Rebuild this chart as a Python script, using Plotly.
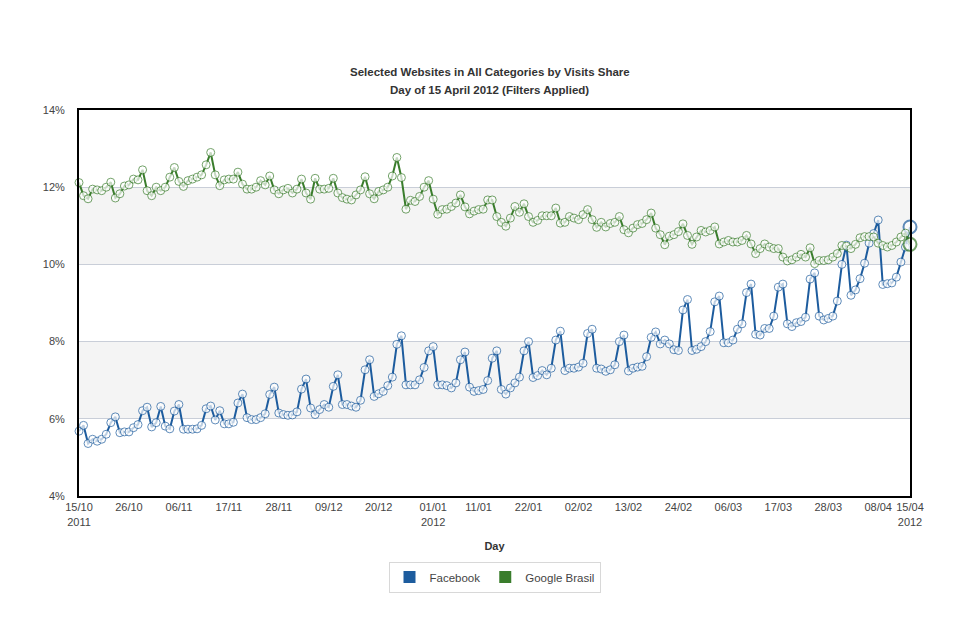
import pandas as pd
import plotly.graph_objects as go

# ---- data ----
start_date = "2011-10-15"
n_days = 184

facebook = [
    5.68, 5.83, 5.36, 5.47, 5.42, 5.47, 5.60, 5.90, 6.05, 5.64,
    5.66, 5.66, 5.77, 5.85, 6.21, 6.30, 5.79, 5.90, 6.32, 5.81,
    5.74, 6.20, 6.37, 5.73, 5.73, 5.73, 5.74, 5.83, 6.26, 6.33,
    5.97, 6.21, 5.87, 5.87, 5.91, 6.41, 6.64, 6.03, 5.98, 5.98,
    6.03, 6.13, 6.63, 6.82, 6.15, 6.11, 6.09, 6.10, 6.18, 6.77,
    7.03, 6.28, 6.11, 6.24, 6.37, 6.30, 6.84, 7.14, 6.37, 6.37,
    6.33, 6.30, 6.48, 7.27, 7.53, 6.58, 6.65, 6.71, 6.86, 7.08,
    7.93, 8.15, 6.88, 6.88, 6.88, 7.01, 7.33, 7.76, 7.87, 6.88,
    6.88, 6.86, 6.80, 6.93, 7.53, 7.73, 6.82, 6.71, 6.73, 6.76,
    6.99, 7.57, 7.76, 6.76, 6.64, 6.80, 6.93, 7.08, 7.76, 8.00,
    7.07, 7.12, 7.25, 7.14, 7.31, 8.04, 8.27, 7.25, 7.31, 7.31,
    7.34, 7.44, 8.21, 8.32, 7.31, 7.29, 7.23, 7.27, 7.40, 8.00,
    8.17, 7.24, 7.31, 7.34, 7.36, 7.61, 8.11, 8.25, 7.94, 8.04,
    7.94, 7.79, 7.77, 8.82, 9.09, 7.77, 7.80, 7.87, 8.00, 8.26,
    9.03, 9.18, 7.97, 7.97, 8.04, 8.32, 8.46, 9.27, 9.49, 8.19,
    8.17, 8.34, 8.34, 8.66, 9.41, 9.49, 8.46, 8.39, 8.49, 8.52,
    8.63, 9.62, 9.78, 8.66, 8.56, 8.60, 8.66, 9.05, 10.00, 10.50,
    9.20, 9.34, 9.63, 10.03, 10.55, 10.80, 11.15, 9.48, 9.50, 9.52,
    9.67, 10.06, 10.45, 10.97,
]

google_brasil = [
    12.12, 11.78, 11.70, 11.95, 11.93, 11.91, 12.00, 12.13, 11.72, 11.83,
    12.03, 12.06, 12.21, 12.19, 12.45, 11.91, 11.78, 12.00, 11.91, 12.00,
    12.26, 12.51, 12.15, 12.02, 12.17, 12.21, 12.26, 12.32, 12.58, 12.90,
    12.32, 12.04, 12.19, 12.21, 12.21, 12.39, 12.08, 11.95, 11.95, 12.00,
    12.17, 12.06, 12.29, 11.93, 11.83, 11.93, 11.97, 11.85, 11.95, 12.21,
    11.85, 11.69, 12.23, 11.95, 11.95, 11.97, 12.23, 11.85, 11.73, 11.69,
    11.67, 11.80, 11.93, 12.27, 11.83, 11.70, 11.89, 11.93, 12.00, 12.29,
    12.77, 12.25, 11.43, 11.66, 11.63, 11.76, 12.00, 12.17, 11.69, 11.30,
    11.42, 11.43, 11.50, 11.59, 11.80, 11.49, 11.31, 11.38, 11.42, 11.43,
    11.67, 11.67, 11.24, 11.09, 10.99, 11.20, 11.50, 11.35, 11.57, 11.24,
    11.09, 11.14, 11.26, 11.26, 11.26, 11.46, 11.07, 11.09, 11.24, 11.20,
    11.16, 11.29, 11.42, 11.16, 10.96, 11.09, 10.97, 11.06, 11.09, 11.24,
    10.90, 10.82, 10.94, 11.03, 11.06, 11.16, 11.33, 10.94, 10.77, 10.51,
    10.73, 10.77, 10.85, 11.05, 10.75, 10.52, 10.71, 10.88, 10.84, 10.88,
    10.97, 10.53, 10.58, 10.62, 10.58, 10.58, 10.62, 10.75, 10.53, 10.28,
    10.41, 10.53, 10.45, 10.41, 10.41, 10.19, 10.09, 10.12, 10.19, 10.26,
    10.19, 10.43, 10.02, 10.10, 10.10, 10.12, 10.19, 10.28, 10.49, 10.47,
    10.41, 10.52, 10.69, 10.72, 10.72, 10.71, 10.55, 10.49, 10.45, 10.49,
    10.58, 10.71, 10.81, 10.52,
]

tick_dates = ["2011-10-15", "2011-10-26", "2011-11-06", "2011-11-17", "2011-11-28",
              "2011-12-09", "2011-12-20", "2012-01-01", "2012-01-11", "2012-01-22",
              "2012-02-02", "2012-02-13", "2012-02-24", "2012-03-06", "2012-03-17",
              "2012-03-28", "2012-04-08", "2012-04-15"]
tick_labels = ["15/10<br>2011", "26/10", "06/11", "17/11", "28/11", "09/12", "20/12",
               "01/01<br>2012", "11/01", "22/01", "02/02", "13/02", "24/02", "06/03",
               "17/03", "28/03", "08/04", "15/04<br>2012"]
y_ticks = [4, 6, 8, 10, 12, 14]
y_tick_labels = ["4%", "6%", "8%", "10%", "12%", "14%"]

title_line1 = "Selected Websites in All Categories by Visits Share"
title_line2 = "Day of 15 April 2012 (Filters Applied)"

series_names = ["Facebook", "Google Brasil"]
series_colors = ["#1d5c9e", "#3a7d2c"]

days = pd.date_range(start_date, periods=n_days, freq="D")

fig = go.Figure()
for name, vals, col in zip(series_names, [facebook, google_brasil], series_colors):
    sizes = [8] * (len(vals) - 1) + [13]
    widths = [1.0] * (len(vals) - 1) + [2]
    fig.add_trace(go.Scatter(
        x=days, y=vals, mode="lines+markers", name=name, showlegend=False,
        line=dict(color=col, width=2),
        marker=dict(symbol="circle", size=sizes, color="white",
                    line=dict(color=col, width=widths)),
        cliponaxis=False,
    ))
# legend entries with square swatches
for name, col in zip(series_names, series_colors):
    fig.add_trace(go.Scatter(
        x=[None], y=[None], mode="markers", name=name,
        marker=dict(symbol="square", size=9, color=col),
    ))

font_family = "Liberation Sans, Arial, sans-serif"

# alternating background bands
for y0, y1 in [(6, 8), (10, 12)]:
    fig.add_shape(type="rect", xref="paper", yref="y", x0=0, x1=1, y0=y0, y1=y1,
                  fillcolor="#f4f4f4", line=dict(width=0), layer="below")

# two-line title as annotations
for txt, ypix in [(title_line1, 72), (title_line2, 90)]:
    fig.add_annotation(text="<b>" + txt + "</b>", xref="paper", yref="paper",
                       x=0.494, y=1 + (110 - ypix) / 386.0, showarrow=False,
                       xanchor="center", yanchor="middle",
                       font=dict(family=font_family, size=11.5, color="#333333"))

fig.update_layout(
    width=960, height=640,
    margin=dict(l=79, r=50, t=110, b=144),
    paper_bgcolor="white", plot_bgcolor="white",
    font=dict(family=font_family, size=11, color="#444444"),
    xaxis=dict(
        range=[days[0], days[-1]],
        tickvals=pd.to_datetime(tick_dates), ticktext=tick_labels,
        tickangle=0, showgrid=False, zeroline=False,
        showline=True, linecolor="black", linewidth=2, mirror=True,
        ticks="", tickfont=dict(size=11, color="#444444"),
        title=dict(text="<b>Day</b>", font=dict(size=11, color="#333333"), standoff=16),
    ),
    yaxis=dict(
        range=[4, 14], tickvals=y_ticks, ticktext=y_tick_labels,
        showgrid=True, gridcolor="#c9ced8", gridwidth=1, zeroline=False,
        showline=True, linecolor="black", linewidth=2, mirror=True,
        ticks="", tickfont=dict(size=11, color="#444444"),
        ticklabelstandoff=10,
    ),
    legend=dict(
        orientation="h", x=0.5, xanchor="center", y=-0.17, yanchor="top",
        bordercolor="#d8d8d8", borderwidth=1, bgcolor="white",
        font=dict(size=11.5, color="#444444"), itemsizing="constant",
        tracegroupgap=0, itemwidth=30,
    ),
)

fig.write_html("out.html")
